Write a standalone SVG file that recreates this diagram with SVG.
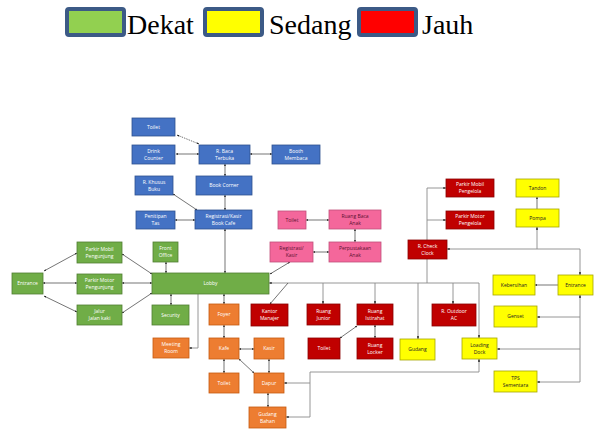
<svg xmlns="http://www.w3.org/2000/svg" width="594" height="430" viewBox="0 0 594 430">
<style>
.lg{stroke:#3C5A86;stroke-width:4}
.lt{font-family:"Liberation Serif",serif;font-size:28px;fill:#000}
.n rect{stroke-width:0.8}
.n text{font-family:"Open Sans","Liberation Sans",sans-serif;font-size:5px;text-anchor:middle;fill:#fff}
.bl rect{fill:#4472C4;stroke:#2F528F}
.gr rect{fill:#70AD47;stroke:#507E32}
.pk rect{fill:#F4679B;stroke:#C0507A}
.pk text{fill:#5a1030}
.or rect{fill:#ED7D31;stroke:#C55A11}
.rd rect{fill:#C00000;stroke:#8B0000}
.yl rect{fill:#FFFF00;stroke:#A6A600}
.yl text{fill:#222}
.c line,.c path{fill:none;stroke:#3a3a3a;stroke-width:0.7}
.c .g{stroke:#8a8a8a;stroke-width:0.9}
.c .d{stroke-dasharray:1.5 1}
</style>
<defs>
<marker id="a" viewBox="0 0 6 6" refX="5.5" refY="3" markerWidth="3.2" markerHeight="3.2" orient="auto-start-reverse"><path d="M0,0.5 L6,3 L0,5.5 Z" fill="#222"/></marker>
</defs>
<g id="legend">
<rect class="lg" x="67" y="9" width="57" height="26" rx="2" fill="#92D050"/>
<text class="lt" x="127" y="34">Dekat</text>
<rect class="lg" x="205" y="9" width="57" height="26" rx="2" fill="#FFFF00"/>
<text class="lt" x="269" y="34">Sedang</text>
<rect class="lg" x="359" y="9" width="57" height="26" rx="2" fill="#FF0000"/>
<text class="lt" x="422" y="34">Jauh</text>
</g>
<g class="c" id="connectors">
<line class="d" x1="177" y1="135" x2="199" y2="144" marker-start="url(#a)" marker-end="url(#a)"/>
<line x1="176" y1="154" x2="199" y2="154" marker-start="url(#a)" marker-end="url(#a)"/>
<line x1="250" y1="154" x2="272" y2="154" marker-start="url(#a)" marker-end="url(#a)"/>
<line x1="225" y1="164" x2="225" y2="176" marker-start="url(#a)" marker-end="url(#a)"/>
<line x1="225" y1="195" x2="225" y2="210" marker-start="url(#a)" marker-end="url(#a)"/>
<line x1="173" y1="194" x2="197" y2="210" marker-start="url(#a)" marker-end="url(#a)"/>
<line x1="195" y1="220" x2="175" y2="220" marker-start="url(#a)" marker-end="url(#a)"/>
<line x1="225" y1="229" x2="225" y2="273" marker-start="url(#a)" marker-end="url(#a)"/>
<line x1="306" y1="220" x2="329" y2="220" marker-start="url(#a)" marker-end="url(#a)"/>
<line x1="355" y1="229" x2="355" y2="242" marker-start="url(#a)" marker-end="url(#a)"/>
<line x1="329" y1="252" x2="313" y2="252" marker-start="url(#a)" marker-end="url(#a)"/>
<line x1="290" y1="262" x2="270" y2="274" marker-start="url(#a)" marker-end="url(#a)"/>
<line x1="44" y1="271" x2="77" y2="253" marker-start="url(#a)" marker-end="url(#a)"/>
<line x1="43" y1="283" x2="77" y2="283" marker-start="url(#a)" marker-end="url(#a)"/>
<line x1="44" y1="296" x2="77" y2="312" marker-start="url(#a)" marker-end="url(#a)"/>
<line x1="122" y1="254" x2="152" y2="274" marker-start="url(#a)" marker-end="url(#a)"/>
<line x1="122" y1="283" x2="152" y2="283" marker-start="url(#a)" marker-end="url(#a)"/>
<line x1="122" y1="313" x2="152" y2="293" marker-start="url(#a)" marker-end="url(#a)"/>
<line x1="166" y1="262" x2="166" y2="273" marker-start="url(#a)" marker-end="url(#a)"/>
<line x1="171" y1="294" x2="171" y2="305" marker-start="url(#a)" marker-end="url(#a)"/>
<line x1="224" y1="294" x2="224" y2="304" marker-start="url(#a)" marker-end="url(#a)"/>
<path class="g" d="M198,294 V348 H189" marker-end="url(#a)"/>
<line x1="224" y1="325" x2="224" y2="338" marker-start="url(#a)" marker-end="url(#a)"/>
<line x1="239" y1="349" x2="254" y2="349" marker-start="url(#a)" marker-end="url(#a)"/>
<line x1="224" y1="359" x2="224" y2="373" marker-start="url(#a)" marker-end="url(#a)"/>
<line x1="269" y1="359" x2="269" y2="373" marker-start="url(#a)" marker-end="url(#a)"/>
<line x1="239" y1="359" x2="254" y2="373" marker-start="url(#a)" marker-end="url(#a)"/>
<line x1="268" y1="393" x2="268" y2="407" marker-start="url(#a)" marker-end="url(#a)"/>
<path class="g" d="M286,417 H310 V372 H479 V359" marker-start="url(#a)" marker-end="url(#a)"/>
<path class="g" d="M310,383 H284" marker-end="url(#a)"/>
<path class="g" d="M479,338 V283 H269" marker-start="url(#a)" marker-end="url(#a)"/>
<path class="g" d="M323,283 V304" marker-end="url(#a)"/>
<path class="g" d="M375,283 V304" marker-end="url(#a)"/>
<path class="g" d="M418,283 V339" marker-end="url(#a)"/>
<path class="g" d="M453,283 V304" marker-end="url(#a)"/>
<path class="g" d="M427,283 V259"/>
<line x1="288" y1="283" x2="270" y2="304" marker-end="url(#a)"/>
<line x1="357" y1="326" x2="340" y2="338" marker-start="url(#a)" marker-end="url(#a)"/>
<line x1="375" y1="325" x2="375" y2="338" marker-start="url(#a)" marker-end="url(#a)"/>
<path class="g" d="M427,240 V188 H446" marker-end="url(#a)"/>
<path class="g" d="M427,220 H446" marker-end="url(#a)"/>
<path class="g" d="M580,275 V249 H447" marker-start="url(#a)" marker-end="url(#a)"/>
<path class="g" d="M537,249 V227" marker-end="url(#a)"/>
<line x1="537" y1="209" x2="537" y2="197" marker-end="url(#a)"/>
<line x1="558" y1="285" x2="535" y2="285" marker-end="url(#a)"/>
<path class="g" d="M580,382 V295" marker-end="url(#a)"/>
<path class="g" d="M580,317 H537" marker-end="url(#a)"/>
<path class="g" d="M580,349 H497" marker-end="url(#a)"/>
<path class="g" d="M580,382 H537" marker-end="url(#a)"/>
</g>
<g class="n bl" id="toilet-1"><rect x="132" y="118" width="43" height="18"/><text x="153.5" y="128.8">Toilet</text></g>
<g class="n bl" id="drink-counter"><rect x="132" y="145" width="43" height="19"/><text x="153.5" y="152.8">Drink</text><text x="153.5" y="159.8">Counter</text></g>
<g class="n bl" id="r-baca-terbuka"><rect x="199" y="145" width="51" height="19"/><text x="224.5" y="152.8">R. Baca</text><text x="224.5" y="159.8">Terbuka</text></g>
<g class="n bl" id="booth-membaca"><rect x="272" y="145" width="48" height="19"/><text x="296" y="152.8">Booth</text><text x="296" y="159.8">Membaca</text></g>
<g class="n bl" id="r-khusus-buku"><rect x="135" y="176" width="38" height="19"/><text x="154" y="183.8">R. Khusus</text><text x="154" y="190.8">Buku</text></g>
<g class="n bl" id="book-corner"><rect x="196" y="176" width="56" height="19"/><text x="224" y="187.3">Book Corner</text></g>
<g class="n bl" id="penitipan-tas"><rect x="136" y="211" width="39" height="18"/><text x="155.5" y="218.3">Penitipan</text><text x="155.5" y="225.3">Tas</text></g>
<g class="n bl" id="registrasi-book-cafe"><rect x="195" y="210" width="57" height="19"/><text x="223.5" y="217.8">Registrasi/Kasir</text><text x="223.5" y="224.8">Book Cafe</text></g>
<g class="n pk" id="toilet-2"><rect x="278" y="211" width="28" height="18"/><text x="292" y="221.8">Toilet</text></g>
<g class="n pk" id="ruang-baca-anak"><rect x="329" y="210" width="52" height="19"/><text x="355" y="217.8">Ruang Baca</text><text x="355" y="224.8">Anak</text></g>
<g class="n pk" id="registrasi-kasir"><rect x="270" y="242" width="43" height="20"/><text x="291.5" y="250.3">Registrasi/</text><text x="291.5" y="257.3">Kasir</text></g>
<g class="n pk" id="perpustakaan-anak"><rect x="329" y="242" width="52" height="20"/><text x="355" y="250.3">Perpustakaan</text><text x="355" y="257.3">Anak</text></g>
<g class="n gr" id="entrance-1"><rect x="12" y="273" width="31" height="21"/><text x="27.5" y="285.3">Entrance</text></g>
<g class="n gr" id="parkir-mobil-pengunjung"><rect x="77" y="242" width="45" height="21"/><text x="99.5" y="250.8">Parkir Mobil</text><text x="99.5" y="257.8">Pengunjung</text></g>
<g class="n gr" id="parkir-motor-pengunjung"><rect x="77" y="274" width="45" height="20"/><text x="99.5" y="282.3">Parkir Motor</text><text x="99.5" y="289.3">Pengunjung</text></g>
<g class="n gr" id="jalur-jalan-kaki"><rect x="77" y="305" width="45" height="20"/><text x="99.5" y="313.3">Jalur</text><text x="99.5" y="320.3">Jalan kaki</text></g>
<g class="n gr" id="front-office"><rect x="153" y="242" width="25" height="20"/><text x="165.5" y="250.3">Front</text><text x="165.5" y="257.3">Office</text></g>
<g class="n gr" id="lobby"><rect x="152" y="273" width="117" height="21"/><text x="210.5" y="285.3">Lobby</text></g>
<g class="n gr" id="security"><rect x="152" y="305" width="37" height="20"/><text x="170.5" y="316.8">Security</text></g>
<g class="n or" id="foyer"><rect x="209" y="304" width="30" height="21"/><text x="224" y="316.3">Foyer</text></g>
<g class="n or" id="meeting-room"><rect x="153" y="338" width="36" height="20"/><text x="171" y="346.3">Meeting</text><text x="171" y="353.3">Room</text></g>
<g class="n or" id="kafe"><rect x="209" y="338" width="30" height="21"/><text x="224" y="350.3">Kafe</text></g>
<g class="n or" id="kasir"><rect x="254" y="338" width="30" height="21"/><text x="269" y="350.3">Kasir</text></g>
<g class="n or" id="toilet-3"><rect x="209" y="373" width="30" height="20"/><text x="224" y="384.8">Toilet</text></g>
<g class="n or" id="dapur"><rect x="254" y="373" width="30" height="20"/><text x="269" y="384.8">Dapur</text></g>
<g class="n or" id="gudang-bahan"><rect x="249" y="407" width="37" height="21"/><text x="267.5" y="415.8">Gudang</text><text x="267.5" y="422.8">Bahan</text></g>
<g class="n rd" id="kantor-manajer"><rect x="251" y="304" width="37" height="22"/><text x="269.5" y="313.3">Kantor</text><text x="269.5" y="320.3">Manajer</text></g>
<g class="n rd" id="ruang-junior"><rect x="307" y="304" width="33" height="21"/><text x="323.5" y="312.8">Ruang</text><text x="323.5" y="319.8">Junior</text></g>
<g class="n rd" id="ruang-istirahat"><rect x="357" y="304" width="36" height="21"/><text x="375" y="312.8">Ruang</text><text x="375" y="319.8">Istirahat</text></g>
<g class="n rd" id="toilet-4"><rect x="308" y="338" width="32" height="21"/><text x="324" y="350.3">Toilet</text></g>
<g class="n rd" id="ruang-locker"><rect x="357" y="338" width="36" height="21"/><text x="375" y="346.8">Ruang</text><text x="375" y="353.8">Locker</text></g>
<g class="n rd" id="r-outdoor-ac"><rect x="432" y="304" width="44" height="22"/><text x="454" y="313.3">R. Outdoor</text><text x="454" y="320.3">AC</text></g>
<g class="n rd" id="r-check-clock"><rect x="408" y="240" width="39" height="19"/><text x="427.5" y="247.8">R. Check</text><text x="427.5" y="254.8">Clock</text></g>
<g class="n rd" id="parkir-mobil-pengelola"><rect x="446" y="179" width="48" height="18"/><text x="470" y="186.3">Parkir Mobil</text><text x="470" y="193.3">Pengelola</text></g>
<g class="n rd" id="parkir-motor-pengelola"><rect x="446" y="211" width="48" height="18"/><text x="470" y="218.3">Parkir Motor</text><text x="470" y="225.3">Pengelola</text></g>
<g class="n yl" id="gudang"><rect x="400" y="339" width="35" height="21"/><text x="417.5" y="351.3">Gudang</text></g>
<g class="n yl" id="loading-dock"><rect x="462" y="338" width="35" height="21"/><text x="479.5" y="346.8">Loading</text><text x="479.5" y="353.8">Dock</text></g>
<g class="n yl" id="tandon"><rect x="516" y="179" width="43" height="18"/><text x="537.5" y="189.8">Tandon</text></g>
<g class="n yl" id="pompa"><rect x="516" y="209" width="43" height="18"/><text x="537.5" y="219.8">Pompa</text></g>
<g class="n yl" id="kebersihan"><rect x="493" y="275" width="42" height="20"/><text x="514" y="286.8">Kebersihan</text></g>
<g class="n yl" id="entrance-2"><rect x="558" y="275" width="35" height="20"/><text x="575.5" y="286.8">Entrance</text></g>
<g class="n yl" id="genset"><rect x="494" y="306" width="43" height="21"/><text x="515.5" y="318.3">Genset</text></g>
<g class="n yl" id="tps-sementara"><rect x="494" y="371" width="43" height="21"/><text x="515.5" y="379.8">TPS</text><text x="515.5" y="386.8">Sementara</text></g>
</svg>
